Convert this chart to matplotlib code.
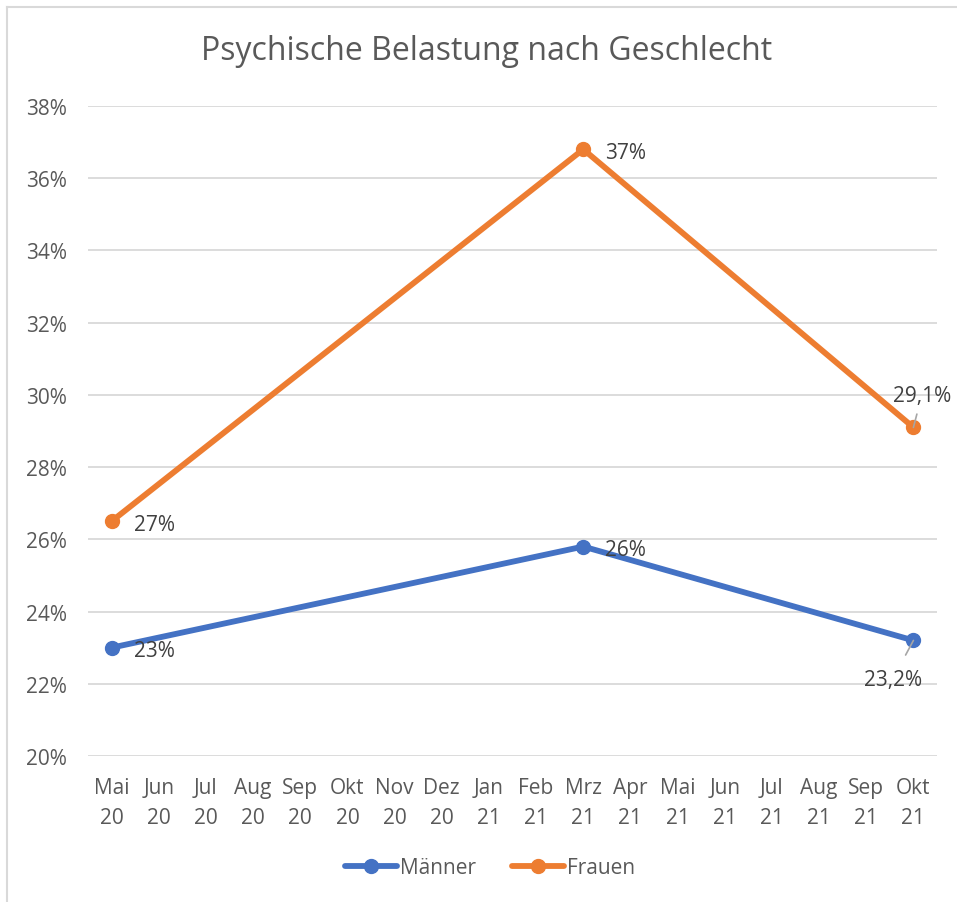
import matplotlib.pyplot as plt
from matplotlib.lines import Line2D

plt.rcParams['font.family'] = ['Open Sans', 'DejaVu Sans']

# categories (month / year)
months = ["Mai\n20", "Jun\n20", "Jul\n20", "Aug\n20", "Sep\n20", "Okt\n20", "Nov\n20", "Dez\n20",
          "Jan\n21", "Feb\n21", "Mrz\n21", "Apr\n21", "Mai\n21", "Jun\n21", "Jul\n21", "Aug\n21",
          "Sep\n21", "Okt\n21"]
idx = [0, 10, 17]  # surveyed months: Mai 20, Mrz 21, Okt 21
maenner = [23.0, 25.8, 23.2]
frauen = [26.5, 36.8, 29.1]
maenner_lbl = ["23%", "26%", "23,2%"]
frauen_lbl = ["27%", "37%", "29,1%"]

blue = '#4472C4'
orange = '#ED7D31'
grey = '#595959'
fs = 15

fig = plt.figure(figsize=(9.57, 9.03), dpi=100)
ax = fig.add_axes([88/957, 146/903, 849/957, 650/903])

ax.plot(idx, maenner, color=blue, lw=4.2, marker='o', ms=10, label='Männer', solid_capstyle='round')
ax.plot(idx, frauen, color=orange, lw=4.2, marker='o', ms=10, label='Frauen', solid_capstyle='round')

ax.set_xlim(-0.5, len(months) - 0.5)
ax.set_ylim(20, 38)
ax.set_yticks(range(20, 39, 2))
ax.set_yticklabels([f"{v}%" for v in range(20, 39, 2)])
ax.set_xticks(range(len(months)))
ax.set_xticklabels(months, linespacing=1.55)
ax.tick_params(length=0, labelsize=fs, colors=grey)
ax.tick_params(axis='y', pad=15)
ax.tick_params(axis='x', pad=15)
ax.grid(axis='y', color='#D9D9D9', lw=1.3)
ax.set_axisbelow(True)
for s in ax.spines.values():
    s.set_visible(False)

# data labels
for i in range(2):
    ax.annotate(maenner_lbl[i], (idx[i], maenner[i]), xytext=(16, -2), textcoords='offset points',
                va='center', ha='left', fontsize=fs, color='#404040')
    ax.annotate(frauen_lbl[i], (idx[i], frauen[i]), xytext=(16, -2), textcoords='offset points',
                va='center', ha='left', fontsize=fs, color='#404040')
ax.annotate(frauen_lbl[2], (idx[2], frauen[2]), xytext=(6, 23), textcoords='offset points',
            va='center', ha='center', fontsize=fs, color='#404040',
            arrowprops=dict(arrowstyle='-', color='#A6A6A6', lw=1.2, shrinkA=4, shrinkB=0))
ax.annotate(maenner_lbl[2], (idx[2], maenner[2]), xytext=(-15, -28), textcoords='offset points',
            va='center', ha='center', fontsize=fs, color='#404040',
            arrowprops=dict(arrowstyle='-', color='#A6A6A6', lw=1.2, shrinkA=9, shrinkB=0))

fig.text(487/957, 1 - 52/903, "Psychische Belastung nach Geschlecht", ha='center', va='center',
         fontsize=23, color=grey)

fig.legend(loc='center', bbox_to_anchor=(490/957, 1 - 869/903), ncol=2, frameon=False,
           fontsize=fs, labelcolor=grey, handlelength=2.5, columnspacing=1.7, handletextpad=0.15)

# chart border (cut off on right and bottom)
fig.add_artist(Line2D([7/957, 7/957], [0, 1 - 8/903], color='#D9D9D9', lw=1.5))
fig.add_artist(Line2D([7/957, 1], [1 - 8/903, 1 - 8/903], color='#D9D9D9', lw=1.5))

fig.savefig('out.png', dpi=100)
